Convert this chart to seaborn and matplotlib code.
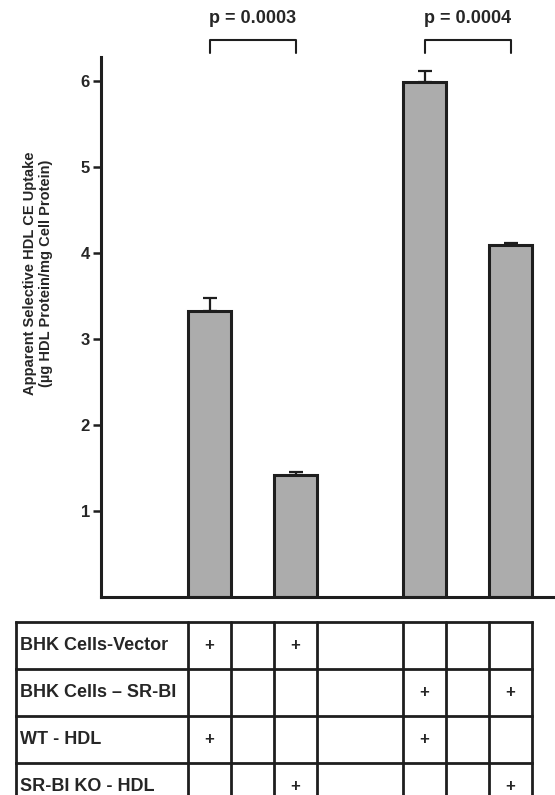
import numpy as np
import pandas as pd
import matplotlib
matplotlib.use("Agg")
import matplotlib.pyplot as plt
import seaborn as sns

# ---- data ----
conditions = ["Vector + WT-HDL", "Vector + KO-HDL", "SR-BI + WT-HDL", "SR-BI + KO-HDL"]
positions = [0.0, 1.0, 2.5, 3.5]
uptake = [3.33, 1.42, 5.99, 4.09]
sem = [0.15, 0.03, 0.13, 0.03]
y_ticks = [1, 2, 3, 4, 5, 6]
p_pairs = [(0, 1), (2, 3)]
p_labels = ["p = 0.0003", "p = 0.0004"]
row_labels = ["BHK Cells-Vector", "BHK Cells \u2013 SR-BI", "WT - HDL", "SR-BI KO - HDL"]
row_marks = [[1, 1, 0, 0],
             [0, 0, 1, 1],
             [1, 0, 1, 0],
             [0, 1, 0, 1]]

df = pd.DataFrame({"pos": positions, "uptake": uptake, "cond": conditions})

sns.set_theme(style="ticks")
plt.rcParams["font.family"] = ["Liberation Sans", "DejaVu Sans"]
plt.rcParams["font.weight"] = "bold"

W, H = 555, 795
fig = plt.figure(figsize=(W / 100, H / 100), dpi=100)

px_per_unit = 86.0
ax_left_px, ax_right_px = 101, 555
ax_top_px, ax_bot_px = 57, 597
ax = fig.add_axes([ax_left_px / W, (H - ax_bot_px) / H,
                   (ax_right_px - ax_left_px) / W, (ax_bot_px - ax_top_px) / H])

bar_w = 0.51
edge = "#1e1e1e"
sns.barplot(data=df, x="pos", y="uptake", native_scale=True, width=bar_w,
            color="#acacac", saturation=1, edgecolor=edge, linewidth=2.2,
            errorbar=None, ax=ax)
ax.errorbar(positions, uptake, yerr=[np.zeros(len(sem)), sem], fmt="none",
            ecolor=edge, elinewidth=1.6, capsize=5, capthick=1.6, zorder=3)

x0 = positions[0] - (209.5 - ax_left_px) / px_per_unit
x1 = x0 + (ax_right_px - ax_left_px) / px_per_unit
ax.set_xlim(x0, x1)
ax.set_ylim(0, (ax_bot_px - ax_top_px) / 86.0)
ax.set_yticks(y_ticks)
ax.set_yticklabels([str(t) for t in y_ticks], fontsize=12, fontweight="bold")
ax.set_xticks([])
ax.set_xlabel("")
ax.tick_params(axis="y", direction="out", length=6, width=1.8, color=edge, pad=2)
for s in ["top", "right"]:
    ax.spines[s].set_visible(False)
for s in ["left", "bottom"]:
    ax.spines[s].set_linewidth(2.2)
    ax.spines[s].set_color(edge)
ax.set_ylabel("Apparent Selective HDL CE Uptake\n(\u00b5g HDL Protein/mg Cell Protein)",
              fontsize=10.5, fontweight="bold", linespacing=1.25)
ax.yaxis.set_label_coords(-0.105, 0.60)

# significance brackets
for (i, j), lab in zip(p_pairs, p_labels):
    xa, xb = positions[i], positions[j]
    yb, yt = 6.33, 6.48
    ax.plot([xa, xa, xb, xb], [yb, yt, yt, yb], color=edge, lw=1.5, clip_on=False)
    ax.text((xa + xb) / 2, 6.73, lab, ha="center", va="center", fontsize=13,
            fontweight="bold", clip_on=False)

# condition table
tab_top_px, row_h = 622, 47
n_rows = len(row_labels)
tab = fig.add_axes([0, (H - (tab_top_px + n_rows * row_h)) / H, 1, n_rows * row_h / H])
tx0 = x0 - ax_left_px / px_per_unit
tx1 = x1
tab.set_xlim(tx0, tx1)
tab.set_ylim(n_rows, 0)
tab.axis("off")
label_left = tx0 + 16 / px_per_unit
right_edge = positions[-1] + bar_w / 2
for r in range(n_rows + 1):
    tab.plot([label_left, right_edge], [r, r], color=edge, lw=2, clip_on=False,
             solid_capstyle="projecting")
vlines = [label_left] + [p + s * bar_w / 2 for p in positions for s in (-1, 1)]
for v in vlines:
    tab.plot([v, v], [0, n_rows], color=edge, lw=2, clip_on=False)
for r, (lab, marks) in enumerate(zip(row_labels, row_marks)):
    tab.text(label_left + 4 / px_per_unit, r + 0.5, lab, ha="left", va="center",
             fontsize=13, fontweight="bold")
    for p, m in zip(positions, marks):
        if m:
            tab.text(p, r + 0.5, "+", ha="center", va="center", fontsize=12,
                     fontweight="bold")

fig.savefig("out.png", dpi=100)
